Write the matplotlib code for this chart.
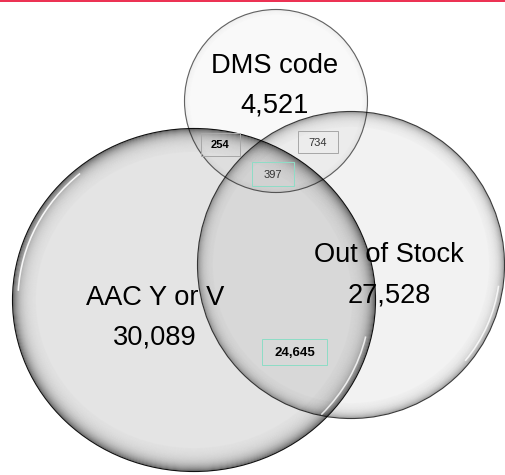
import numpy as np
import matplotlib
matplotlib.use("Agg")
import matplotlib.pyplot as plt
from matplotlib.patches import Ellipse, Arc, Rectangle
from matplotlib.lines import Line2D

# ---- data ----
set_names = ["AAC Y or V", "Out of Stock", "DMS code"]
set_totals = [30089, 27528, 4521]
overlap_names = ["AAC & DMS", "DMS & Out of Stock", "All three", "AAC & Out of Stock"]
overlap_values = [254, 734, 397, 24645]

# ---- layout (pixel coordinates) ----
W, H = 506, 475
# circles: (cx, cy, rx, ry)
circ = {
    "AAC Y or V": (194, 300, 182, 172),
    "Out of Stock": (351, 265, 154, 154),
    "DMS code": (276, 101, 92, 92),
}
# label baselines: (x, y_name, y_value)
label_pos = {
    "AAC Y or V": (155, 305, 345),
    "Out of Stock": (389, 262, 302),
    "DMS code": (275, 73, 112),
}
# overlap boxes: (x0, y0, x1, y1, edgecolor, bold)
box_pos = [
    (201, 133, 240, 156, "#a8a8a8", True, 8),
    (298, 131, 338, 153, "#a8a8a8", False, 8),
    (252, 162, 294, 186, "#8fdcc6", False, 8),
    (262, 339, 327, 365, "#8fdcc6", True, 9.5),
]

fig = plt.figure(figsize=(W / 100, H / 100), dpi=100)
ax = fig.add_axes([0, 0, 1, 1])
ax.set_xlim(0, W)
ax.set_ylim(H, 0)
ax.axis("off")

font = ["Liberation Sans", "DejaVu Sans"]

# labels (drawn beneath the translucent circles)
for name, total in zip(set_names, set_totals):
    x, yn, yv = label_pos[name]
    ax.text(x, yn, name, ha="center", va="baseline", fontsize=19.6,
            family=font, color="black", zorder=1)
    ax.text(x, yv, f"{total:,}", ha="center", va="baseline", fontsize=19.6,
            family=font, color="black", zorder=1)

PX = 0.72  # points per pixel


def rim(cx, cy, rx, ry, width, peak, tau, z, outer=0.9):
    for i in range(int(width)):
        d = i + 0.5
        a = peak * np.exp(-d / tau)
        if i == 0:
            a = outer
        ax.add_patch(Ellipse((cx, cy), 2 * (rx - d), 2 * (ry - d), fill=False,
                             edgecolor="black", alpha=min(a, 1.0),
                             lw=1.15 * PX, zorder=z))


def highlight(cx, cy, rx, ry, inset, t1, t2, z, alpha=0.85, lw=1.6):
    ax.add_patch(Arc((cx, cy), 2 * (rx - inset), 2 * (ry - inset), theta1=t1,
                     theta2=t2, edgecolor="white", alpha=alpha, lw=lw * PX,
                     zorder=z))


# Out of Stock circle
cx, cy, rx, ry = circ["Out of Stock"]
ax.add_patch(Ellipse((cx, cy), 2 * rx, 2 * ry, facecolor="black", alpha=0.052,
                     edgecolor="none", zorder=2))
rim(cx, cy, rx, ry, 16, 0.38, 4.5, 3, outer=0.75)
highlight(cx, cy, rx, ry, 5, 8, 40, 3.5, alpha=0.8)

# AAC circle
cx, cy, rx, ry = circ["AAC Y or V"]
ax.add_patch(Ellipse((cx, cy), 2 * rx, 2 * ry, facecolor="black", alpha=0.105,
                     edgecolor="none", zorder=4))
rim(cx, cy, rx, ry, 24, 0.6, 6.0, 5, outer=0.92)
highlight(cx, cy, rx, ry, 6, 183, 228, 5.5, alpha=0.9)
highlight(cx, cy, rx, ry, 6, 12, 42, 5.5, alpha=0.8)

# DMS circle
cx, cy, rx, ry = circ["DMS code"]
ax.add_patch(Ellipse((cx, cy), 2 * rx, 2 * ry, facecolor="black", alpha=0.025,
                     edgecolor="none", zorder=6))
rim(cx, cy, rx, ry, 6, 0.05, 3.0, 6.5, outer=0.6)

# overlap boxes
for (x0, y0, x1, y1, ec, bold, fs), v in zip(box_pos, overlap_values):
    ax.add_patch(Rectangle((x0, y0), x1 - x0, y1 - y0, fill=False,
                           edgecolor=ec, lw=1.0 * PX, zorder=7))
    ax.text((x0 + x1) / 2, (y0 + y1) / 2, f"{v:,}", ha="center",
            va="center_baseline", fontsize=fs, family=font,
            fontweight="bold" if bold else "normal",
            color="black" if bold else "#333333", zorder=8)

# red top rule
ax.add_line(Line2D([0, W], [0.75, 0.75], color="#e8002a", lw=1.6 * PX, zorder=9))

fig.savefig("out.png", dpi=100)
